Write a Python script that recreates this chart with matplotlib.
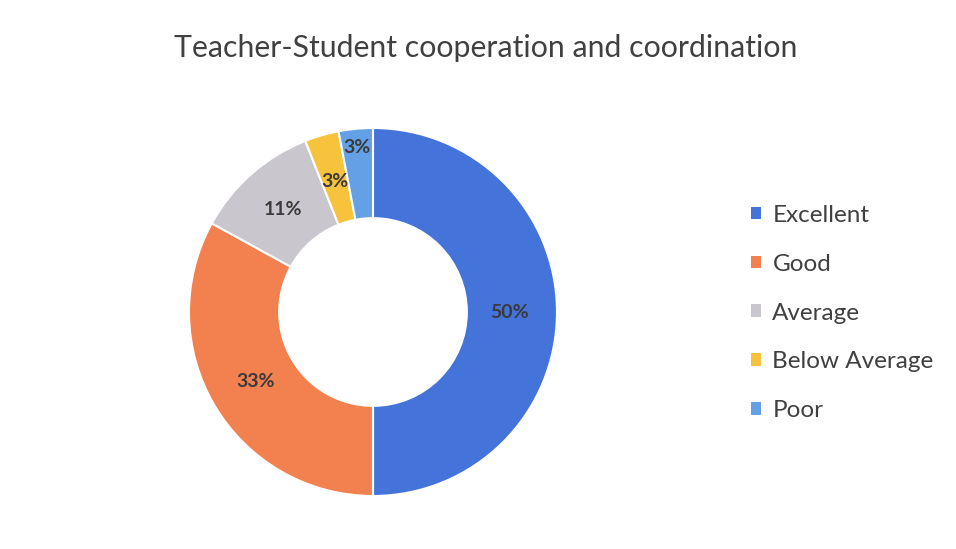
import matplotlib.pyplot as plt
from matplotlib.patches import Patch

categories = ['Excellent', 'Good', 'Average', 'Below Average', 'Poor']
values = [50, 33, 11, 3, 3]
colors = ['#4473d9', '#f2814f', '#c9c6cd', '#f7c23c', '#64a0e6']
title = 'Teacher-Student cooperation and coordination'

plt.rcParams['font.family'] = ['Lato', 'DejaVu Sans']

W, H = 956, 549
fig = plt.figure(figsize=(W / 100, H / 100), dpi=100)
fig.patch.set_facecolor('white')

cx, cy, r = 373, 312, 184
ax = fig.add_axes([(cx - r) / W, (H - cy - r) / H, 2 * r / W, 2 * r / H])

wedges, _, autotexts = ax.pie(
    values, colors=colors, startangle=90, counterclock=False,
    autopct='%d%%', pctdistance=0.74,
    wedgeprops=dict(width=0.49, edgecolor='white', linewidth=1.5),
    textprops=dict(fontsize=14, fontweight='bold', color='#3a3a3a'))
# Poor label pushed outward so it clears the Below Average one
x, y = autotexts[-1].get_position()
autotexts[-1].set_position((x * 0.9 / 0.74, y * 0.9 / 0.74))
ax.set_xlim(-1, 1)
ax.set_ylim(-1, 1)
ax.set_aspect('equal')

fig.text(486 / W, 1 - 48 / H, title, ha='center', va='center', fontsize=21.8, color='#404040')

handles = [Patch(facecolor=c, edgecolor='none') for c in colors]
fig.legend(handles, categories, loc='center left', bbox_to_anchor=(751 / W, 1 - 313 / H),
           frameon=False, fontsize=17.5, labelcolor='#404040', borderpad=0, borderaxespad=0,
           handlelength=0.43, handleheight=0.43, handletextpad=0.45, labelspacing=1.15)

fig.savefig('out.png', dpi=100)
